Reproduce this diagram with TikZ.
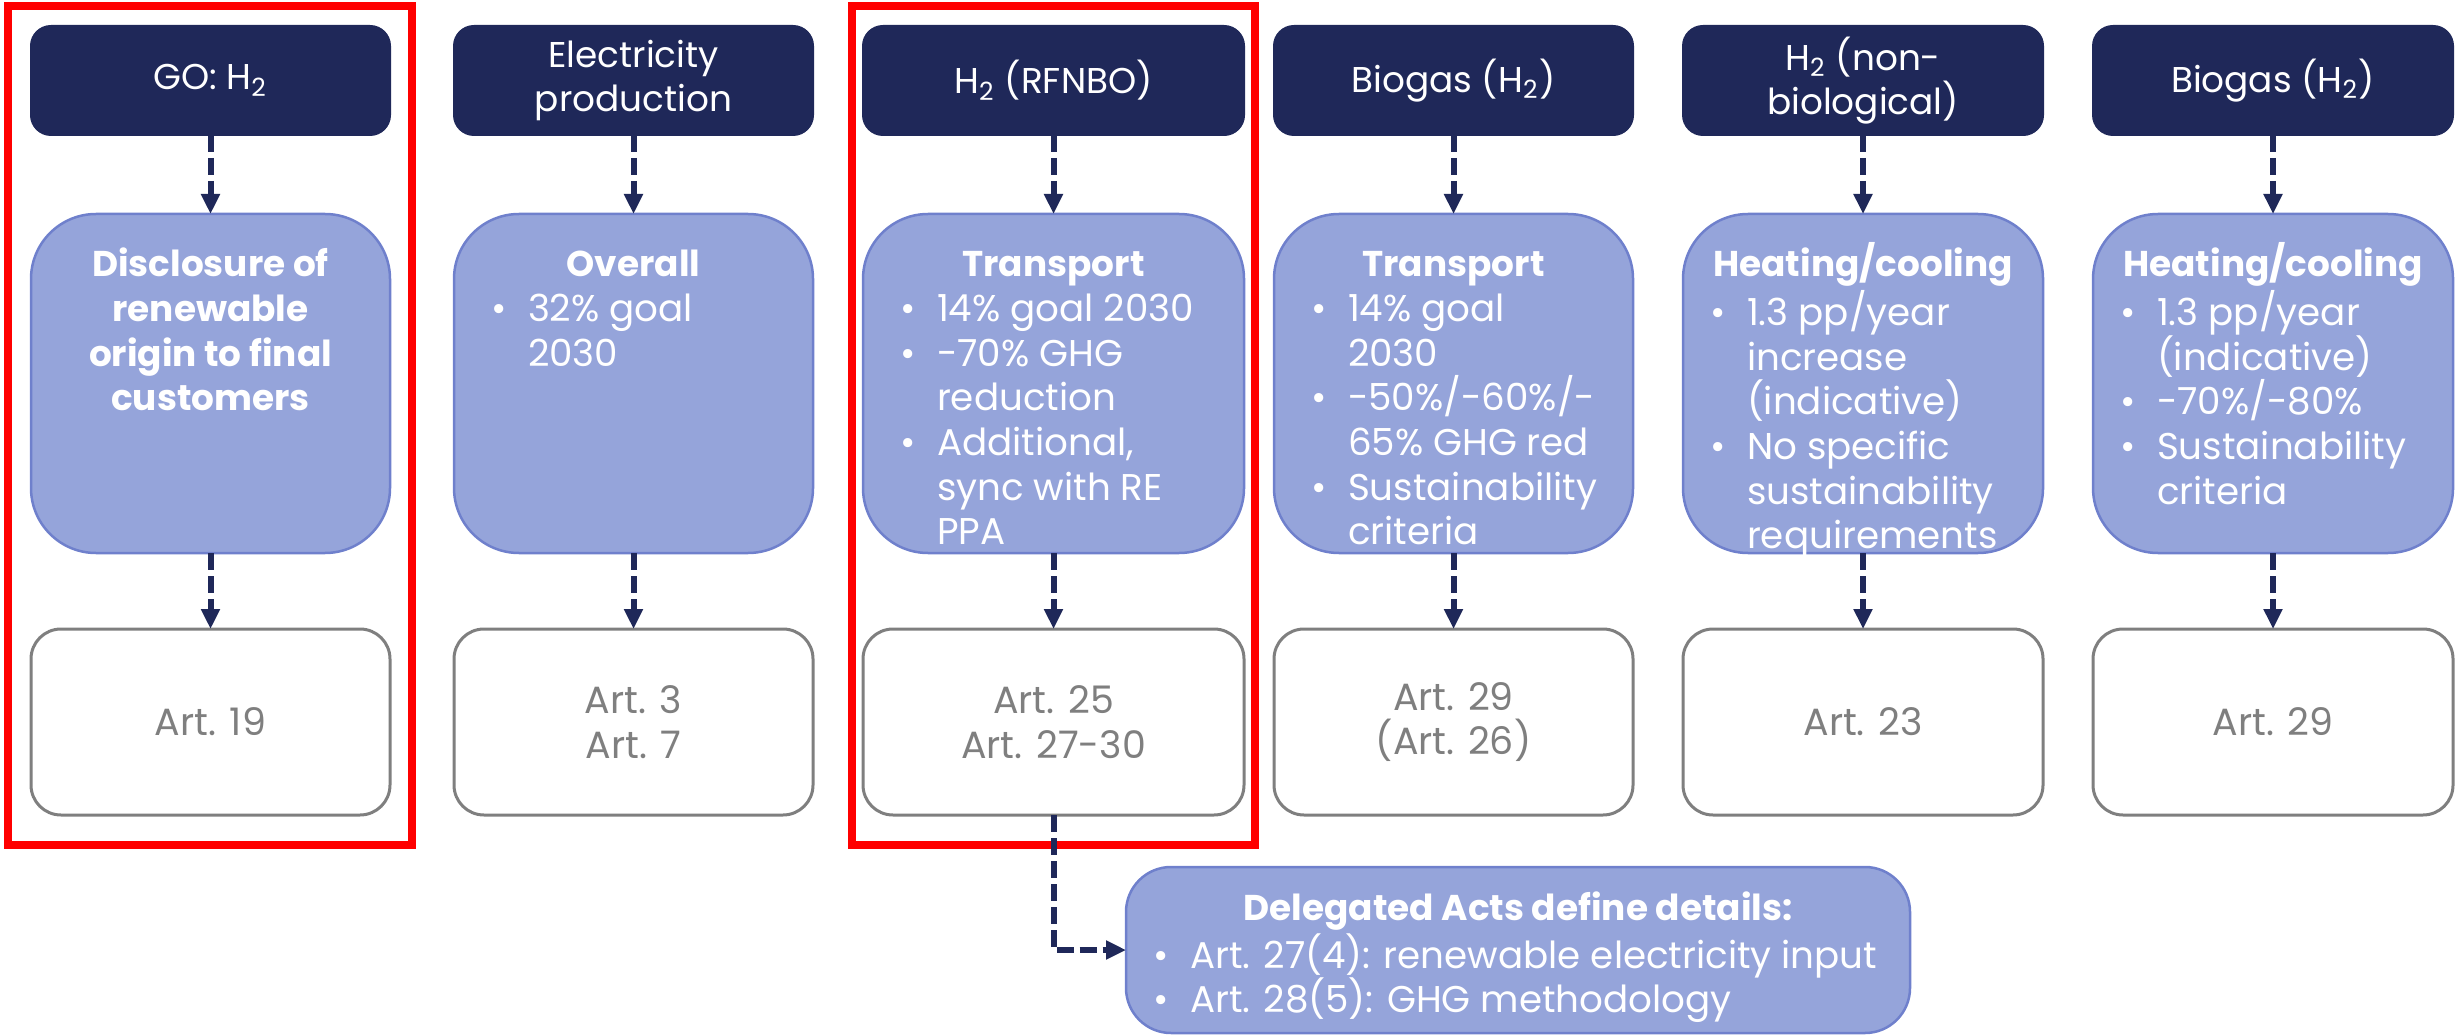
\documentclass[tikz,border=0pt]{standalone}
\usepackage{fontspec}
\setmainfont{Poppins}
\usetikzlibrary{arrows.meta}
\newlength\px \setlength\px{0.1mm}
\definecolor{navy}{HTML}{1F2859}
\definecolor{lightbl}{HTML}{95A4DA}
\definecolor{lightbd}{HTML}{6F80CC}
\definecolor{artgray}{HTML}{7F7F7F}
\definecolor{redline}{HTML}{FF0000}
\newcommand\BL[2]{\par\noindent\hspace*{#1\px}\makebox[37\px][l]{\textbullet}\mbox{#2}}
\newcommand\CL[2]{\par\noindent\hspace*{\dimexpr#1\px+37\px\relax}\mbox{#2}}
\newcommand\HD[1]{\par{\centering\fontsize{10.2}{12.7}\selectfont\bfseries #1\par}}
\tikzset{
  hdr/.style={fill=navy, draw=navy, line width=0.2mm, rounded corners=2mm, minimum height=109\px, text=white, align=center, font=\fontsize{10.2}{12.7}\selectfont},
  lbox/.style={fill=lightbl, draw=lightbd, line width=0.25mm, rounded corners=6.5mm, minimum height=339\px},
  abox/.style={fill=white, draw=artgray, line width=0.3mm, rounded corners=3mm, minimum height=186\px, text=artgray, align=center, font=\fontsize{10.8}{12.7}\selectfont},
  redbox/.style={draw=redline, line width=0.8mm},
  wtxt/.style={text=white, anchor=base west, font=\fontsize{10.6}{12.7}\selectfont},
  conn/.style={draw=navy, line width=0.6mm, dash pattern=on 1.7mm off 0.6mm, -{Triangle[length=2mm,width=1.8mm]}}
}
\begin{document}
\begin{tikzpicture}[x=0.1mm,y=-0.1mm, every node/.style={inner sep=0pt, outer sep=0pt}]
\useasboundingbox (0,0) rectangle (2461,1036);
% red frames
\node[redbox, minimum width=404\px, minimum height=839\px] (r1) at (210,425.5) {};
\node[redbox, minimum width=403\px, minimum height=839\px] (r3) at (1053.5,425.5) {};
% headers
\node[hdr, minimum width=359\px] (h1) at (210.5,80.5) {GO: H\textsubscript{2}};
\node[hdr, minimum width=359\px] (h2) at (633.5,80.5) {Electricity\\production};
\node[hdr, minimum width=381\px] (h3) at (1053.5,80.5) {H\textsubscript{2} (RFNBO)};
\node[hdr, minimum width=359\px] (h4) at (1453.5,80.5) {Biogas (H\textsubscript{2})};
\node[hdr, minimum width=360\px] (h5) at (1863,80.5) {H\textsubscript{2} (non-\\biological)};
\node[hdr, minimum width=360\px] (h6) at (2273,80.5) {Biogas (H\textsubscript{2})};
% light boxes
\node[lbox, minimum width=359\px] (m1) at (210.5,383.5) {};
\node[lbox, minimum width=359\px] (m2) at (633.5,383.5) {};
\node[lbox, minimum width=381\px] (m3) at (1053.5,383.5) {};
\node[lbox, minimum width=359\px] (m4) at (1453.5,383.5) {};
\node[lbox, minimum width=360\px] (m5) at (1863,383.5) {};
\node[lbox, minimum width=360\px] (m6) at (2273,383.5) {};
\node[wtxt] (t1) at (31,277) {\begin{minipage}[t]{359\px}\centering\fontsize{10.2}{12.7}\selectfont\bfseries Disclosure of\\renewable\\origin to final\\customers\end{minipage}};
\node[wtxt] (t2) at (454,277) {\begin{minipage}[t]{359\px}\HD{Overall}\BL{37}{32\% goal}\CL{37}{2030}\end{minipage}};
\node[wtxt] (t3) at (863,277) {\begin{minipage}[t]{381\px}\HD{Transport}\BL{37}{14\% goal 2030}\BL{37}{-70\% GHG}\CL{37}{reduction}\BL{37}{Additional,}\CL{37}{sync with RE}\CL{37}{PPA}\end{minipage}};
\node[wtxt] (t4) at (1274,277) {\begin{minipage}[t]{359\px}\HD{Transport}\BL{37}{14\% goal}\CL{37}{2030}\BL{37}{-50\%/-60\%/-}\CL{37}{65\% GHG red}\BL{37}{Sustainability}\CL{37}{criteria}\end{minipage}};
\node[wtxt] (t5) at (1683,277) {\begin{minipage}[t]{360\px}\HD{Heating/cooling}\BL{27}{1.3 pp/year}\CL{27}{increase}\CL{27}{(indicative)}\BL{27}{No specific}\CL{27}{sustainability}\CL{27}{requirements}\end{minipage}};
\node[wtxt] (t6) at (2093,277) {\begin{minipage}[t]{360\px}\HD{Heating/cooling}\BL{27}{1.3 pp/year}\CL{27}{(indicative)}\BL{27}{-70\%/-80\%}\BL{27}{Sustainability}\CL{27}{criteria}\end{minipage}};
% article boxes
\node[abox, minimum width=359\px] (a1) at (210.5,722) {Art. 19};
\node[abox, minimum width=359\px] (a2) at (633.5,722) {Art. 3\\Art. 7};
\node[abox, minimum width=381\px] (a3) at (1053.5,722) {Art. 25\\Art. 27-30};
\node[abox, minimum width=359\px] (a4) at (1453.5,722) {Art. 29\\(Art. 26)};
\node[abox, minimum width=360\px] (a5) at (1863,722) {Art. 23};
\node[abox, minimum width=360\px] (a6) at (2273,722) {Art. 29};
% delegated acts
\node[lbox, rounded corners=4.5mm, minimum width=784\px, minimum height=166\px] (del) at (1518,950) {};
\node[wtxt] (tdel) at (1126,920) {\begin{minipage}[t]{784\px}\HD{Delegated Acts define details:}\BL{27}{Art. 27(4): renewable electricity input}\BL{27}{Art. 28(5): GHG methodology}\end{minipage}};
% connectors
\foreach \i in {1,...,6}{
  \draw[conn] (h\i) -- (m\i);
  \draw[conn] (m\i) -- (a\i);
}
\draw[conn] (a3.south) |- (del.west);
\end{tikzpicture}
\end{document}
